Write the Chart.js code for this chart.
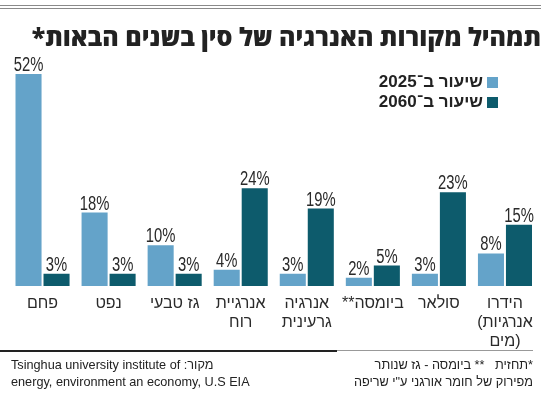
<!DOCTYPE html>
<html lang="he">
<head>
<meta charset="utf-8">
<script src="https://cdn.jsdelivr.net/npm/chart.js@4/dist/chart.umd.min.js"></script>
<style>
  body { margin: 0; background: #fff; }
  #wrap { position: relative; width: 550px; height: 394px; overflow: hidden;
          font-family: "Liberation Sans", "DejaVu Sans", sans-serif; color: #222; }
  #chartBox { position: absolute; left: 0; top: 0; width: 550px; height: 394px; }
  .rule { position: absolute; left: 0; width: 541px; height: 1px; background: #8a8a8a; }
  #title { position: absolute; right: 9px; top: 20px; font-family: "Open Sans", "DejaVu Sans", sans-serif;
           font-weight: 800; font-size: 25px; line-height: 32px; color: #222; white-space: nowrap; }
  .leg { position: absolute; right: 52px; font-weight: bold; font-size: 17px; line-height: 20px; white-space: nowrap; }
  .leg i { display: inline-block; width: 11px; height: 11px; margin-left: 4px; vertical-align: -1px; }
  .foot { position: absolute; font-size: 12.7px; line-height: 16px; white-space: nowrap; color: #222; }
</style>
</head>
<body>
<div id="wrap">
  <div class="rule" style="top:5px"></div>
  <div class="rule" style="top:8px"></div>
  <div id="chartBox"><canvas id="chart"></canvas></div>
  <div id="title" dir="rtl">תמהיל מקורות האנרגיה של סין בשנים הבאות*</div>
  <div class="leg" dir="rtl" style="top:72px"><i id="sw1"></i><span id="lab1"></span></div>
  <div class="leg" dir="rtl" style="top:92px"><i id="sw2"></i><span id="lab2"></span></div>
  <div style="position:absolute;left:0;top:350px;width:337px;height:2px;background:#222"></div>
  <div style="position:absolute;left:337px;top:350px;width:196px;height:1px;background:#999"></div>
  <div class="foot" dir="rtl" style="left:11px;top:357px;text-align:left">מקור: Tsinghua university institute of</div>
  <div class="foot" style="left:11px;top:374px">energy, environment an economy, U.S EIA</div>
  <div class="foot" dir="rtl" style="right:17px;top:357px">*תחזית&nbsp;&nbsp; ** ביומסה - גז שנותר</div>
  <div class="foot" dir="rtl" style="right:17px;top:374px">מפירוק של חומר אורגני ע"י שריפה</div>
</div>
<script>
// tick text is drawn left-to-right on the canvas, so neutral chars are placed visually
const categories = [
  ["פחם"],
  ["נפט"],
  ["גז טבעי"],
  ["אנרגיית", "רוח"],
  ["אנרגיה", "גרעינית"],
  ["**ביומסה"],
  ["סולאר"],
  ["הידרו", "(אנרגיות", "מים)"]
];
const share2025 = [52, 18, 10, 4, 3, 2, 3, 8];
const share2060 = [3, 3, 3, 24, 19, 5, 23, 15];
const seriesLabels = ["שיעור ב־2025", "שיעור ב־2060"];

const C_2025 = "#64a3c9";
const C_2060 = "#0d5b6c";

document.getElementById("sw1").style.background = C_2025;
document.getElementById("sw2").style.background = C_2060;
document.getElementById("lab1").textContent = seriesLabels[0];
document.getElementById("lab2").textContent = seriesLabels[1];

// percent labels above each bar, squeezed to look condensed
const valueLabels = {
  id: "valueLabels",
  afterDatasetsDraw(chart) {
    const ctx = chart.ctx;
    chart.data.datasets.forEach((ds, i) => {
      chart.getDatasetMeta(i).data.forEach((bar, j) => {
        ctx.save();
        ctx.translate(bar.x, bar.y - 2);
        ctx.scale(0.74, 1);
        ctx.font = "20px 'Liberation Sans', 'DejaVu Sans', sans-serif";
        ctx.fillStyle = "#2a2a2a";
        ctx.textAlign = "center";
        ctx.textBaseline = "alphabetic";
        ctx.fillText(ds.data[j] + "%", 0, -1);
        ctx.restore();
      });
    });
  }
};

new Chart(document.getElementById("chart"), {
  type: "bar",
  data: {
    labels: categories,
    datasets: [
      { label: seriesLabels[0], data: share2025, backgroundColor: C_2025 },
      { label: seriesLabels[1], data: share2060, backgroundColor: C_2060 }
    ]
  },
  options: {
    responsive: true,
    maintainAspectRatio: false,
    animation: false,
    categoryPercentage: 0.848,
    barPercentage: 0.93,
    layout: { padding: { left: 9.5, right: 12, top: 41.4, bottom: 43 } },
    scales: {
      x: {
        grid: { display: false },
        border: { display: false },
        afterFit: (scale) => { scale.height = 65; },
        ticks: {
          color: "#2a2a2a",
          padding: 0,
          maxRotation: 0,
          autoSkip: false,
          font: { family: "'Liberation Sans', 'DejaVu Sans', sans-serif", size: 16, lineHeight: 1.2 }
        }
      },
      y: { display: false, min: 0, max: 60 }
    },
    plugins: {
      legend: { display: false },
      tooltip: { enabled: false }
    }
  },
  plugins: [valueLabels]
});
</script>
</body>
</html>
